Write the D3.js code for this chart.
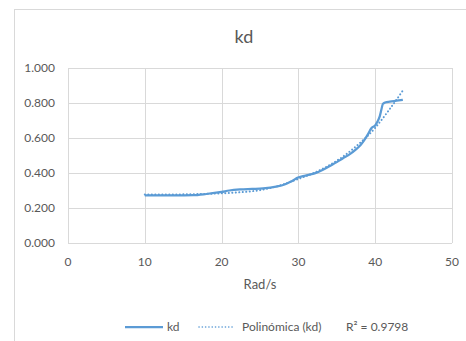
<!DOCTYPE html>
<html>
<head>
    <meta charset="utf-8">
    <title>kd</title>
    <style>
        body { margin: 0; background: #fff; }
        svg { font-family: Lato, 'Open Sans', sans-serif; }
        .grid line { stroke: #d9d9d9; stroke-width: 1; }
        .tick-label { fill: #595959; font-size: 12px; }
    </style>
</head>
<body>
    <figure style="margin:0"></figure>

    <script src="https://d3js.org/d3.v7.min.js"></script>
    <script>
        // ---------- data ----------
        const rad = [10, 12, 14, 16.3, 18, 20, 21, 22.4, 24, 25.4, 27.1, 28.2, 28.9, 29.4, 29.8,
            30.6, 31.5, 32.3, 33.2, 34.1, 35, 35.8, 36.7, 37.5, 38.1, 38.6, 39.1, 39.5, 40, 40.3,
            40.6, 40.8, 41, 41.3, 41.9, 42.8, 43.6]
        const kd = [0.272, 0.272, 0.272, 0.273, 0.280, 0.292, 0.300, 0.306, 0.309, 0.312, 0.322, 0.334,
            0.348, 0.360, 0.372, 0.382, 0.391, 0.401, 0.418, 0.440, 0.462, 0.484, 0.508, 0.535, 0.560,
            0.589, 0.625, 0.656, 0.672, 0.694, 0.725, 0.761, 0.795, 0.803, 0.808, 0.813, 0.818]

        const trendX = [10, 12.5, 15, 17.5, 20, 22.5, 25, 27.5, 30, 32.5, 35, 37.5, 40, 41.5, 43.6]
        const trendY = [0.277, 0.277, 0.278, 0.280, 0.284, 0.290, 0.302, 0.328, 0.366, 0.410, 0.470, 0.552, 0.658, 0.742, 0.871]

        const xTicks = [0, 10, 20, 30, 40, 50]
        const yTicks = [0, 0.2, 0.4, 0.6, 0.8, 1.0]

        const seriesName = 'kd'
        const trendName = 'Polinómica (kd)'
        const r2Label = 'R² = 0.9798'

        // ---------- svg setup ----------
        const W = 466, H = 341
        const plot = { left: 68, right: 452, top: 68, bottom: 243 }

        const svg = d3.select('figure').append('svg')
            .attr('width', W).attr('height', H)

        // outer chart border (runs off right / bottom of the crop)
        svg.append('rect')
            .attr('x', 14.5).attr('y', 9.5)
            .attr('width', 480).attr('height', 360)
            .attr('fill', 'none').attr('stroke', '#d9d9d9')

        const x = d3.scaleLinear().domain([0, 50]).range([plot.left, plot.right])
        const y = d3.scaleLinear().domain([0, 1]).range([plot.bottom, plot.top])

        // grid
        const grid = svg.append('g').attr('class', 'grid')
        grid.selectAll('.h').data(yTicks).enter().append('line')
            .attr('x1', plot.left).attr('x2', plot.right)
            .attr('y1', d => Math.round(y(d)) + 0.5).attr('y2', d => Math.round(y(d)) + 0.5)
        grid.selectAll('.v').data(xTicks).enter().append('line')
            .attr('y1', plot.top).attr('y2', plot.bottom)
            .attr('x1', d => Math.round(x(d)) + 0.5).attr('x2', d => Math.round(x(d)) + 0.5)

        // tick labels
        svg.selectAll('.ylab').data(yTicks).enter().append('text')
            .attr('class', 'tick-label')
            .attr('x', 55).attr('y', d => y(d) + 4)
            .attr('text-anchor', 'end')
            .text(d => d3.format('.3f')(d))

        svg.selectAll('.xlab').data(xTicks).enter().append('text')
            .attr('class', 'tick-label')
            .attr('x', d => x(d)).attr('y', 266)
            .attr('text-anchor', 'middle')
            .text(d => d)

        // titles
        svg.append('text').attr('x', 244).attr('y', 43)
            .attr('text-anchor', 'middle').attr('fill', '#595959')
            .style('font-size', '18px').text('kd')

        svg.append('text').attr('x', (plot.left + plot.right) / 2).attr('y', 289)
            .attr('text-anchor', 'middle').attr('fill', '#595959')
            .style('font-size', '13px').text('Rad/s')

        // lines
        const pts = rad.map((r, i) => [r, kd[i]])
        const tpts = trendX.map((r, i) => [r, trendY[i]])

        const line = d3.line().x(d => x(d[0])).y(d => y(d[1])).curve(d3.curveMonotoneX)

        svg.append('path').datum(tpts)
            .attr('d', line)
            .attr('fill', 'none').attr('stroke', '#5b9bd5')
            .attr('stroke-width', 2).attr('stroke-dasharray', '0.1 3.4')
            .attr('stroke-linecap', 'round')

        svg.append('path').datum(pts)
            .attr('d', line)
            .attr('fill', 'none').attr('stroke', '#5b9bd5')
            .attr('stroke-width', 2.25).attr('stroke-linejoin', 'round')

        // legend
        const ly = 327
        const legend = svg.append('g')
        legend.append('line').attr('x1', 125).attr('x2', 163).attr('y1', ly).attr('y2', ly)
            .attr('stroke', '#5b9bd5').attr('stroke-width', 2.25)
        legend.append('text').attr('x', 167).attr('y', ly + 4).attr('class', 'tick-label').text(seriesName)
        legend.append('line').attr('x1', 199).attr('x2', 235).attr('y1', ly).attr('y2', ly)
            .attr('stroke', '#5b9bd5').attr('stroke-width', 1.6)
            .attr('stroke-dasharray', '0.1 3.2').attr('stroke-linecap', 'round')
        legend.append('text').attr('x', 242).attr('y', ly + 4).attr('class', 'tick-label').text(trendName)
        legend.append('text').attr('x', 346).attr('y', ly + 4).attr('class', 'tick-label').text(r2Label)
    </script>
</body>
</html>
